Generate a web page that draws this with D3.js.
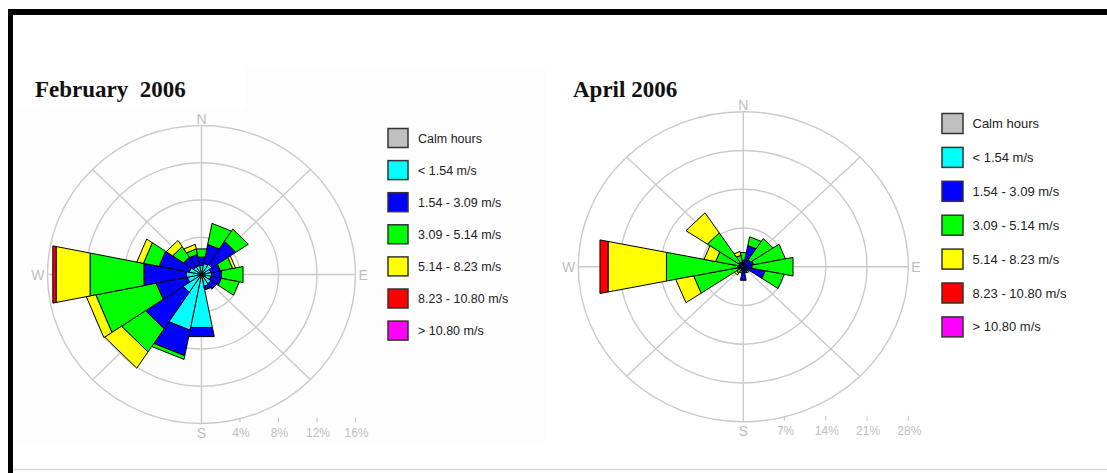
<!DOCTYPE html>
<html>
<head>
<meta charset="utf-8">
<script src="https://cdn.jsdelivr.net/npm/d3@7"></script>
<style>
  body { margin: 0; background: #fff; }
  svg { display: block; }
</style>
</head>
<body>
<script>
const width = 1107
const height = 473

// 16 compass sectors, clockwise from north
const directions = ['N', 'NNE', 'NE', 'ENE', 'E', 'ESE', 'SE', 'SSE', 'S', 'SSW', 'SW', 'WSW', 'W', 'WNW', 'NW', 'NNW']
const legendLabels = ['Calm hours', '< 1.54 m/s', '1.54 - 3.09 m/s', '3.09 - 5.14 m/s', '5.14 - 8.23 m/s', '8.23 - 10.80 m/s', '> 10.80 m/s']
const binKeys = ['b1', 'b2', 'b3', 'b4', 'b5', 'b6']
const binColors = ['#00ffff', '#0000ff', '#00ff00', '#ffff00', '#ff0000', '#ff00ff']
const calmColor = '#c0c0c0'

// February 2006, percent of hours per direction and speed class
const febB1 = [1.0, 1.2, 1.3, 1.0, 1.05, 1.0, 1.2, 1.3, 5.8, 6.1, 2.3, 1.5, 1.6, 1.3, 1.0, 1.0]
const febB2 = [0.9, 2.1, 3.0, 1.0, 1.05, 1.1, 0.7, 0.4, 1.0, 2.8, 4.7, 3.3, 4.5, 3.2, 1.25, 1.2]
const febB3 = [0.9, 2.3, 1.55, 1.3, 2.3, 1.9, 0, 0, 0, 0.4, 3.0, 6.4, 5.7, 1.65, 1.35, 0.6]
const febB4 = [0, 0, 0, 0.3, 0, 0, 0, 0, 0, 0, 2.1, 1.0, 3.6, 0.7, 0.8, 0.5]
const febB5 = [0, 0, 0, 0, 0, 0, 0, 0, 0, 0, 0, 0, 0.35, 0, 0, 0]
const febB6 = [0, 0, 0, 0, 0, 0, 0, 0, 0, 0, 0, 0, 0, 0, 0, 0]
const febTicks = [4, 8, 12, 16]

// April 2006
const aprB1 = [0, 0, 0, 0, 0, 0, 0, 0, 0, 0, 0, 0, 0, 0, 0, 0]
const aprB2 = [1.2, 3.9, 1.5, 1.8, 1.5, 3.8, 1.0, 1.2, 2.5, 0.8, 0.6, 1.0, 1.0, 0.8, 1.0, 0.8]
const aprB3 = [1.4, 1.6, 4.6, 5.5, 7.1, 3.3, 0.3, 0, 0, 0.4, 0.8, 7.6, 12.3, 4.0, 6.35, 1.3]
const aprB4 = [0, 0, 0, 0, 0, 0, 0, 0, 0, 0, 0.4, 3.1, 10.1, 2.0, 4.35, 0.7]
const aprB5 = [0, 0, 0, 0, 0, 0, 0, 0, 0, 0, 0, 0, 1.4, 0, 0, 0]
const aprB6 = [0, 0, 0, 0, 0, 0, 0, 0, 0, 0, 0, 0, 0, 0, 0, 0]
const aprTicks = [7, 14, 21, 28]

const svg = d3.select('body').append('svg')
  .attr('width', width)
  .attr('height', height)

// frame of the original figure
svg.append('rect').attr('x', 8).attr('y', 9).attr('width', width - 8).attr('height', 6).attr('fill', '#000')
svg.append('rect').attr('x', 8).attr('y', 9).attr('width', 5).attr('height', height - 9).attr('fill', '#000')
svg.append('line').attr('x1', 13).attr('x2', width).attr('y1', 469.5).attr('y2', 469.5)
  .attr('stroke', '#d8d8d8').attr('stroke-width', 1.5)

// very faint panel behind the first chart
svg.append('rect').attr('x', 14).attr('y', 67).attr('width', 532).attr('height', 375).attr('fill', '#fdfdfd')
svg.append('rect').attr('x', 14).attr('y', 67).attr('width', 231).attr('height', 42).attr('fill', '#fff')

const roses = [
  {
    title: 'February  2006', bins: [febB1, febB2, febB3, febB4, febB5, febB6], ticks: febTicks,
    cx: 201.5, cy: 274.5, rx: 154, ry: 149, titleX: 35,
    legendX: 388, legendY: 128.5, legendStep: 32.1, boxW: 20, boxH: 19, textX: 418, fontSize: 12.5
  },
  {
    title: 'April 2006', bins: [aprB1, aprB2, aprB3, aprB4, aprB5, aprB6], ticks: aprTicks,
    cx: 743.3, cy: 266.7, rx: 165, ry: 155, titleX: 573,
    legendX: 942, legendY: 113.5, legendStep: 33.9, boxW: 21, boxH: 20, textX: 972.5, fontSize: 13
  }
]

const half = 360 / directions.length / 2
const rad = a => a * Math.PI / 180

roses.forEach(r => {
  const g = svg.append('g')
  const maxTick = d3.max(r.ticks)
  const sx = d3.scaleLinear().domain([0, maxTick]).range([0, r.rx])
  const sy = d3.scaleLinear().domain([0, maxTick]).range([0, r.ry])
  const pt = (p, a) => [r.cx + sx(p) * Math.sin(rad(a)), r.cy - sy(p) * Math.cos(rad(a))]

  // grid rings and spokes
  g.selectAll('.ring')
    .data(r.ticks)
    .enter().append('ellipse')
    .attr('cx', r.cx).attr('cy', r.cy)
    .attr('rx', d => sx(d)).attr('ry', d => sy(d))
    .style('fill', 'none').style('stroke', '#cacaca').style('stroke-width', 1.4)

  g.selectAll('.spoke')
    .data([0, 45, 90, 135])
    .enter().append('line')
    .attr('x1', a => pt(maxTick, a)[0]).attr('y1', a => pt(maxTick, a)[1])
    .attr('x2', a => pt(maxTick, a + 180)[0]).attr('y2', a => pt(maxTick, a + 180)[1])
    .style('stroke', '#cacaca').style('stroke-width', 1.4)

  // compass letters
  const compass = [
    { t: 'N', x: r.cx, y: r.cy - r.ry - 1.5, anchor: 'middle' },
    { t: 'S', x: r.cx, y: r.cy + r.ry + 14, anchor: 'middle' },
    { t: 'E', x: r.cx + r.rx + 3, y: r.cy + 5, anchor: 'start' },
    { t: 'W', x: r.cx - r.rx - 3, y: r.cy + 5, anchor: 'end' }
  ]
  g.selectAll('.compass')
    .data(compass)
    .enter().append('text')
    .attr('x', d => d.x).attr('y', d => d.y)
    .attr('text-anchor', d => d.anchor)
    .style('font-family', 'Arial, "Liberation Sans", sans-serif')
    .style('font-size', '14px')
    .style('fill', '#bdbdbd')
    .text(d => d.t)

  // percent scale under the rose
  g.selectAll('.tick')
    .data(r.ticks)
    .enter().append('line')
    .attr('x1', d => r.cx + sx(d)).attr('x2', d => r.cx + sx(d))
    .attr('y1', r.cy + r.ry - 6).attr('y2', r.cy + r.ry - 1)
    .style('stroke', '#c4c4c4').style('stroke-width', 1)
  g.selectAll('.ticklabel')
    .data(r.ticks)
    .enter().append('text')
    .attr('x', d => r.cx + sx(d) + 1)
    .attr('y', r.cy + r.ry + 13.5)
    .attr('text-anchor', 'middle')
    .style('font-family', 'Arial, "Liberation Sans", sans-serif')
    .style('font-size', '12px')
    .style('fill', '#bdbdbd')
    .text(d => d + '%')

  // stacked petals
  const rows = directions.map((d, i) => {
    const row = { dir: d, angle: i * 360 / directions.length }
    binKeys.forEach((k, j) => { row[k] = r.bins[j][i] })
    return row
  })
  const series = d3.stack().keys(binKeys)(rows)

  series.forEach((s, j) => {
    g.selectAll('.seg' + j)
      .data(s.filter(d => d[1] - d[0] > 0))
      .enter().append('polygon')
      .attr('points', d => {
        const a = d.data.angle
        return [pt(d[0], a - half), pt(d[1], a - half), pt(d[1], a + half), pt(d[0], a + half)]
          .map(p => p.join(',')).join(' ')
      })
      .style('fill', binColors[j])
      .style('stroke', '#000')
      .style('stroke-width', 1)
      .style('stroke-linejoin', 'round')
  })

  // title
  svg.append('text')
    .attr('x', r.titleX).attr('y', 97)
    .style('font-family', '"Times New Roman", "Liberation Serif", serif')
    .style('font-weight', 'bold')
    .style('font-size', '23px')
    .style('white-space', 'pre')
    .style('fill', '#111')
    .text(r.title)

  // legend
  const legendColors = [calmColor].concat(binColors)
  const lg = svg.append('g')
  const item = lg.selectAll('.item')
    .data(legendLabels)
    .enter().append('g')
    .attr('transform', (d, i) => `translate(0 ${r.legendY + i * r.legendStep})`)
  item.append('rect')
    .attr('x', r.legendX).attr('y', 0)
    .attr('width', r.boxW).attr('height', r.boxH)
    .style('fill', (d, i) => legendColors[i])
    .style('stroke', '#333')
    .style('stroke-width', 1.5)
  item.append('text')
    .attr('x', r.textX).attr('y', r.boxH / 2 + 4.5)
    .style('font-family', 'Arial, "Liberation Sans", sans-serif')
    .style('font-size', r.fontSize + 'px')
    .style('fill', '#222')
    .text(d => d)
})
</script>
</body>
</html>
